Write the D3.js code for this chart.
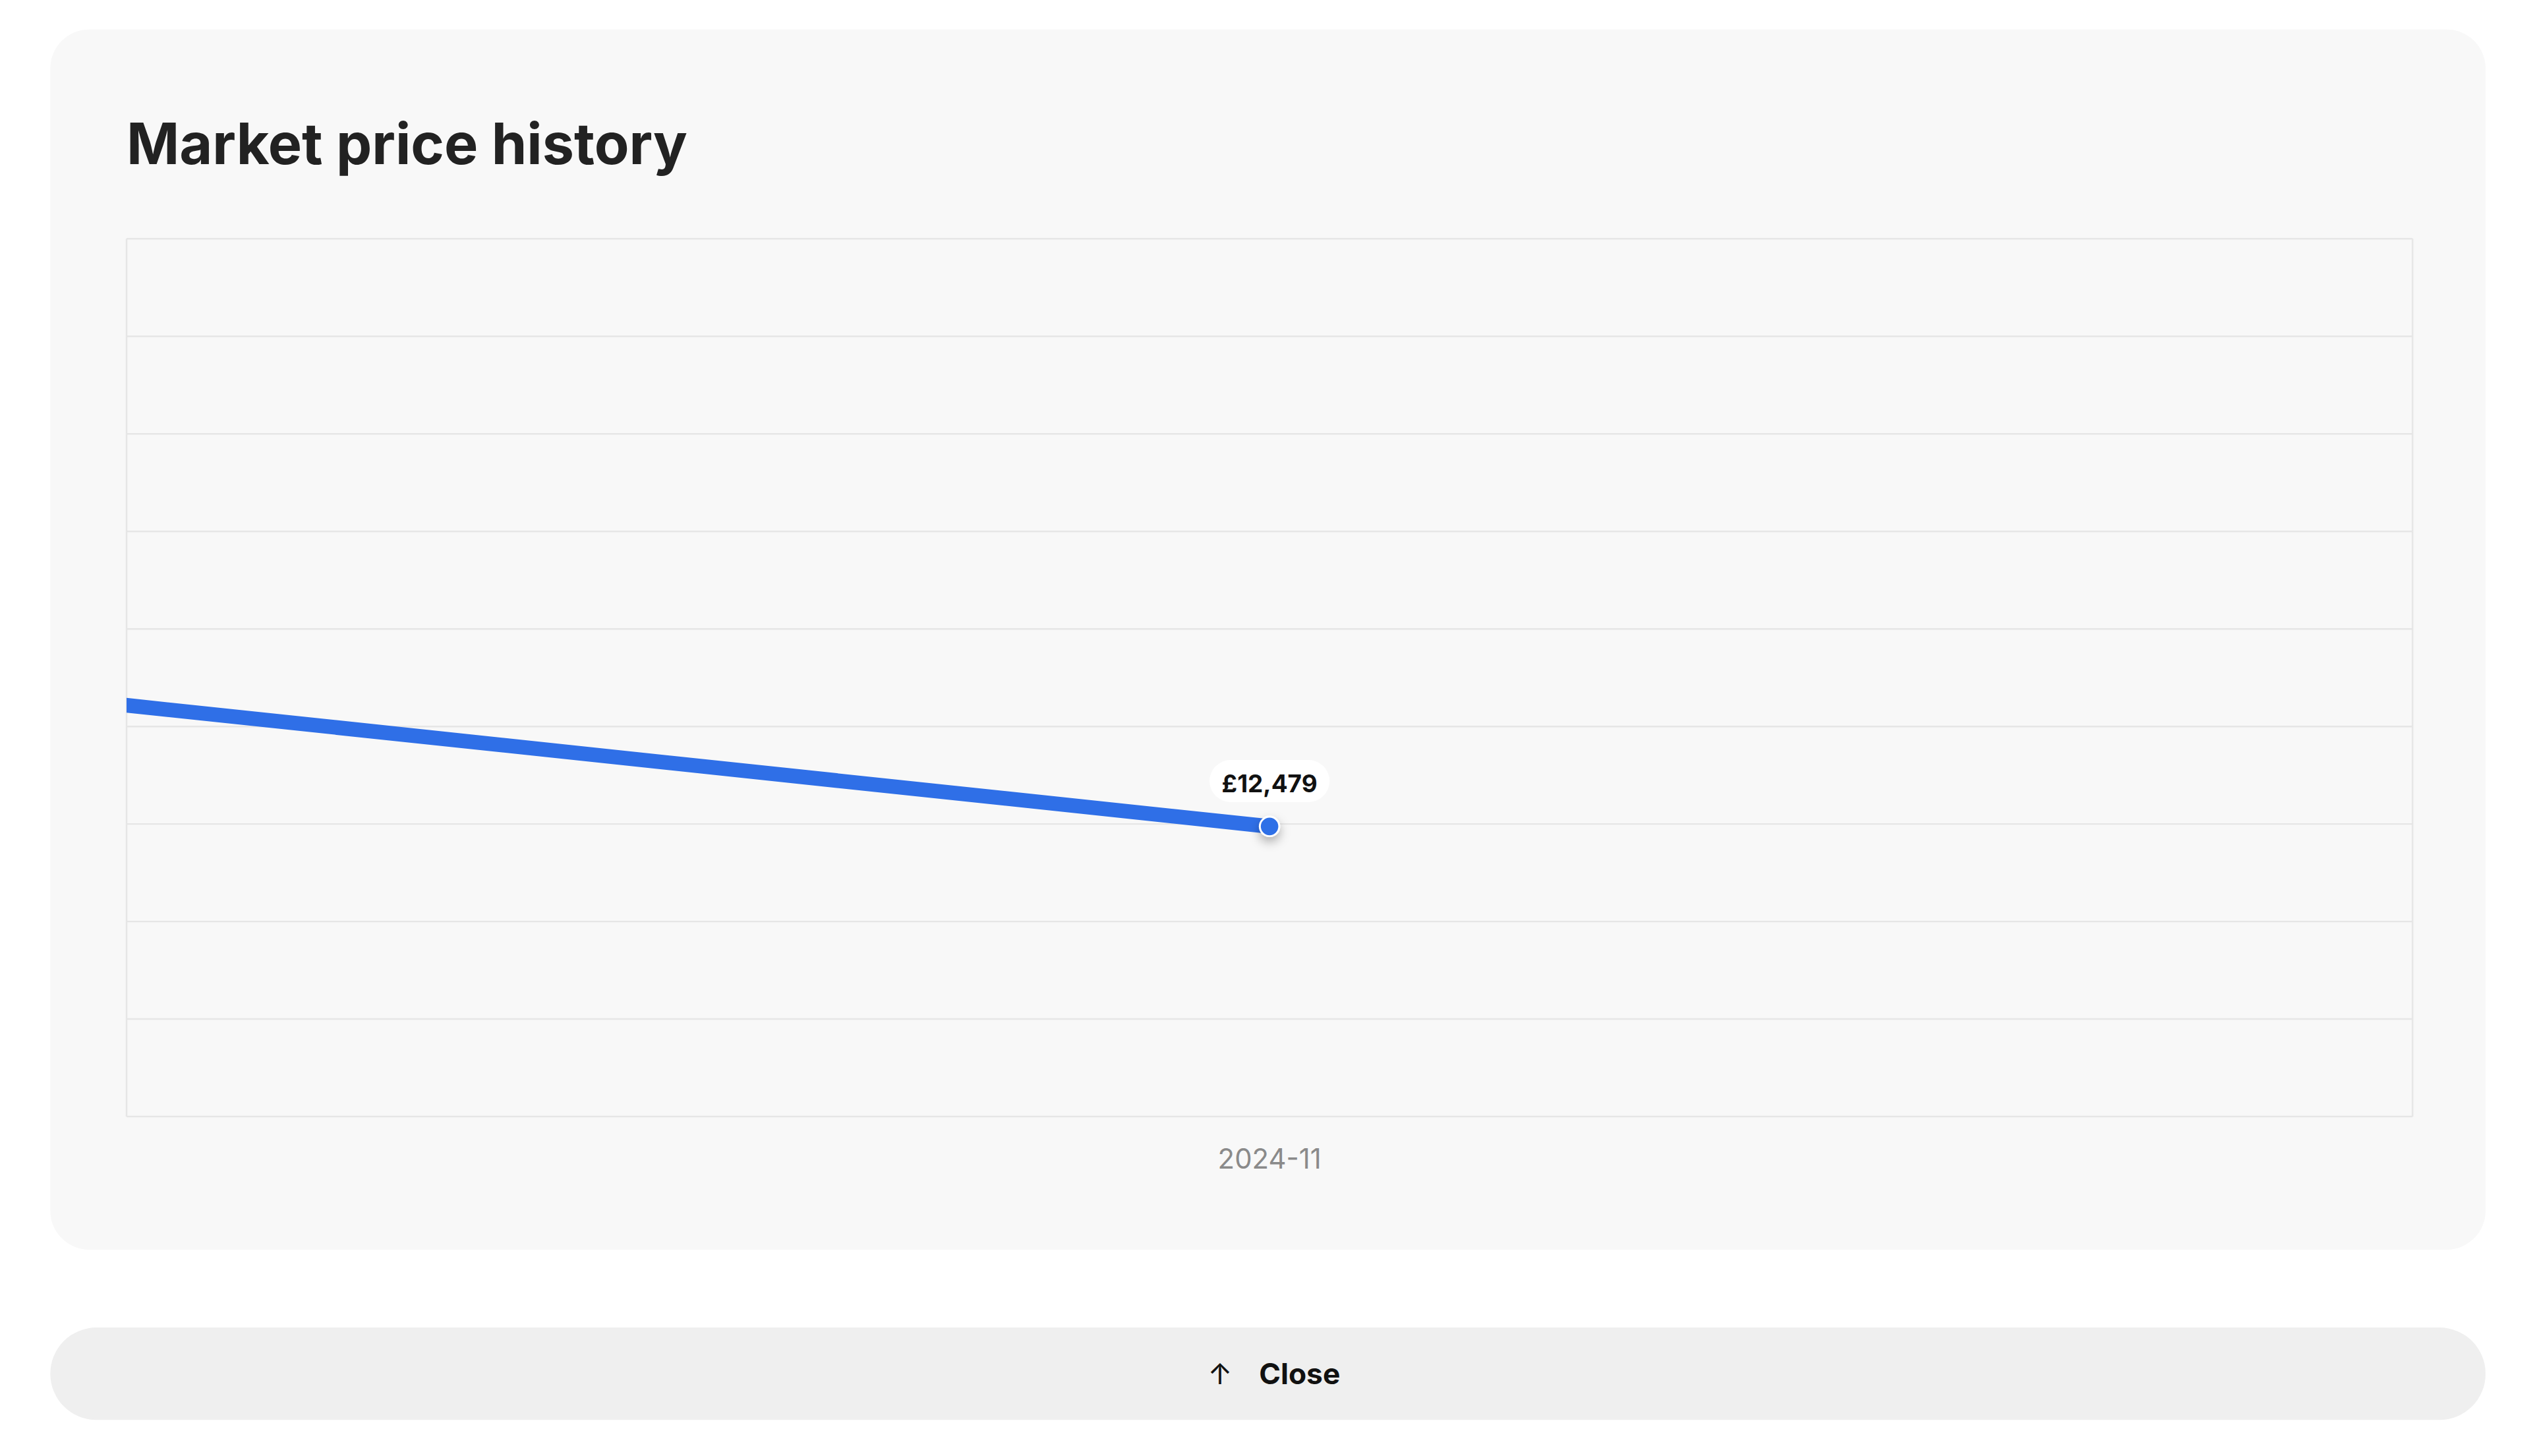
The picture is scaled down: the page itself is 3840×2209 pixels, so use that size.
<!DOCTYPE html>
<html><head><meta charset="utf-8">
<script src="https://cdn.jsdelivr.net/npm/d3@7"></script>
<style>
html,body{margin:0;padding:0;background:#fff;}
svg{display:block;font-family:Inter,"Noto Sans",sans-serif;}
</style></head>
<body>
<svg id="chart" width="3840" height="2209" viewBox="0 0 1560 897"></svg>
<script>
// Data
const months = ["2024-10", "2024-11"];
const prices = [14550, 12479];
const visibleMonths = ["2024-11"];
const yDomain = [10000, 17500];
const gridCount = 9;

const svg = d3.select("#chart");
const defs = svg.append("defs");
const f = defs.append("filter").attr("id", "sh").attr("x", "-200%").attr("y", "-200%").attr("width", "500%").attr("height", "500%");
f.append("feDropShadow").attr("dx", 0).attr("dy", 3).attr("stdDeviation", 3).attr("flood-opacity", 0.3);
defs.append("clipPath").attr("id", "plotclip").append("rect")
  .attr("x", 78).attr("y", 140).attr("width", 1409).attr("height", 560);

// card
svg.append("rect").attr("x", 31).attr("y", 18).attr("width", 1501).attr("height", 752)
  .attr("rx", 24).attr("fill", "#f8f8f8");
svg.append("text").attr("x", 78).attr("y", 101).attr("font-size", 35).attr("font-weight", 700)
  .attr("fill", "#222").text("Market price history");

const plot = {left: 78, right: 1487, top: 147, bottom: 688};
const x = d3.scaleLinear().domain([0.5, 1.5]).range([plot.left, plot.right]);
const y = d3.scaleLinear().domain(yDomain).range([plot.bottom, plot.top]);

// grid
const gridVals = d3.range(gridCount + 1).map(i => yDomain[0] + i * (yDomain[1] - yDomain[0]) / gridCount);
svg.append("g").selectAll("line").data(gridVals).join("line")
  .attr("x1", plot.left).attr("x2", plot.right)
  .attr("y1", d => y(d)).attr("y2", d => y(d))
  .attr("stroke", "#e6e6e6").attr("stroke-width", 1);
svg.append("g").selectAll("line").data([plot.left, plot.right]).join("line")
  .attr("x1", d => d).attr("x2", d => d).attr("y1", plot.top).attr("y2", plot.bottom)
  .attr("stroke", "#e6e6e6").attr("stroke-width", 1);

// x labels
svg.append("g").selectAll("text").data(visibleMonths).join("text")
  .attr("x", d => x(months.indexOf(d))).attr("y", 720).attr("text-anchor", "middle")
  .attr("font-size", 17).attr("fill", "#8a8a8a").text(d => d);

// line
const line = d3.line().x((d, i) => x(i)).y(d => y(d));
svg.append("path").datum(prices).attr("d", line).attr("clip-path", "url(#plotclip)")
  .attr("fill", "none").attr("stroke", "#2f6fe7").attr("stroke-width", 9).attr("stroke-linecap", "round");

// last point + label
const li = prices.length - 1;
const px = x(li), py = y(prices[li]);
svg.append("circle").attr("cx", px).attr("cy", py).attr("r", 6)
  .attr("fill", "#2f6fe7").attr("stroke", "#fff").attr("stroke-width", 1.2).attr("filter", "url(#sh)");
const lab = "£" + d3.format(",")(prices[li]);
svg.append("rect").attr("x", px - 37).attr("y", py - 41).attr("width", 74).attr("height", 26)
  .attr("rx", 13).attr("fill", "#fff");
svg.append("text").attr("x", px).attr("y", py - 21).attr("text-anchor", "middle")
  .attr("font-size", 15).attr("font-weight", 700).attr("fill", "#111").text(lab);

// close button
svg.append("rect").attr("x", 31).attr("y", 818).attr("width", 1501).attr("height", 57)
  .attr("rx", 28.5).attr("fill", "#efefef");
svg.append("text").attr("x", 752).attr("y", 853).attr("text-anchor", "middle")
  .attr("font-size", 18).attr("fill", "#111").text("↑");
svg.append("text").attr("x", 776).attr("y", 853)
  .attr("font-size", 18).attr("font-weight", 700).attr("fill", "#111").text("Close");
</script>
</body></html>
